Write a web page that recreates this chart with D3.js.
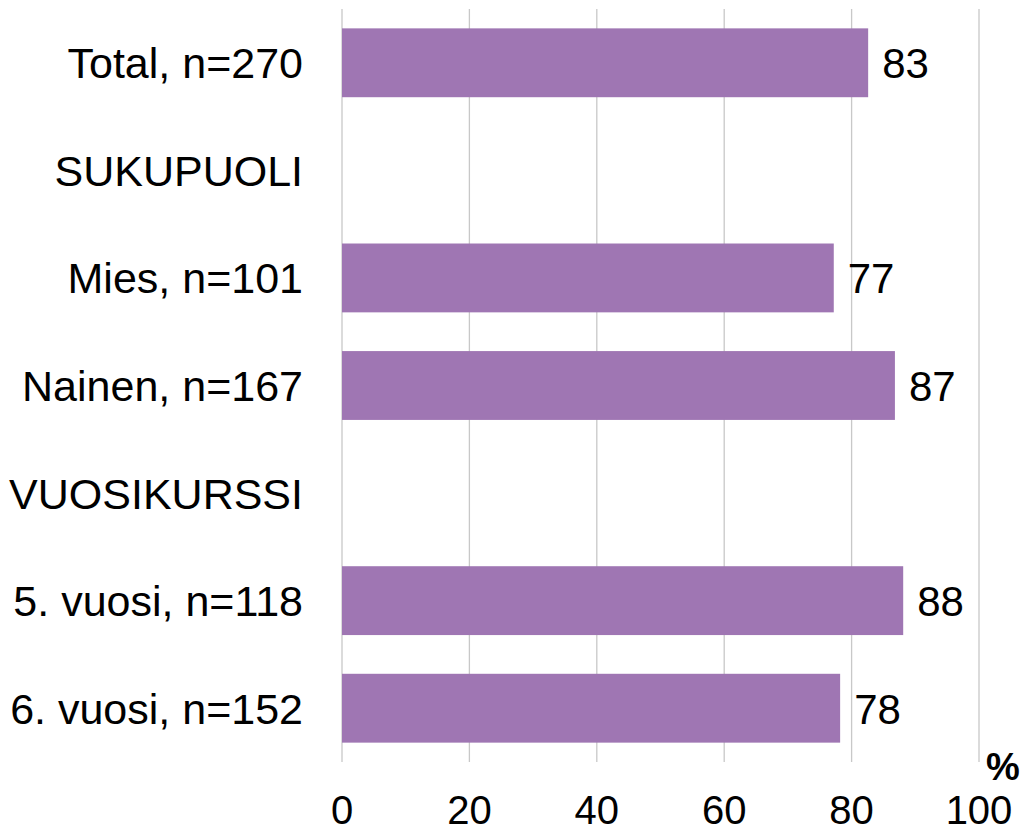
<!DOCTYPE html>
<html>
<head>
<meta charset="utf-8">
<script src="https://cdn.jsdelivr.net/npm/d3@7"></script>
<style>
  body { margin: 0; background: #fff; }
  text { font-family: "Liberation Sans", Arial, sans-serif; fill: #000; }
</style>
</head>
<body>
<div id="chart"></div>
<script>
// categories (rows), empty value = heading row
var categories = ["Total, n=270", "SUKUPUOLI", "Mies, n=101", "Nainen, n=167", "VUOSIKURSSI", "5. vuosi, n=118", "6. vuosi, n=152"];
var values = [82.6, null, 77.2, 86.8, null, 88.1, 78.2];
var valueLabels = ["83", "", "77", "87", "", "88", "78"];
var ticks = [0, 20, 40, 60, 80, 100];

var width = 1027, height = 831;
var margin = {left: 342, right: 48, top: 9, bottom: 69};

var svg = d3.select("#chart").append("svg")
    .attr("width", width).attr("height", height);

var x = d3.scaleLinear().domain([0, 100]).range([margin.left, width - margin.right]);
var y = d3.scaleBand().domain(categories)
    .range([margin.top, height - margin.bottom])
    .paddingInner(0.36).paddingOuter(0.18);

// gridlines
svg.append("g").selectAll("line")
    .data(ticks)
    .enter().append("line")
    .attr("x1", d => x(d)).attr("x2", d => x(d))
    .attr("y1", margin.top).attr("y2", height - margin.bottom)
    .attr("stroke", "#c8c8c8").attr("stroke-width", 1.3);

// bars
var rows = categories.map((c, i) => ({cat: c, v: values[i], lab: valueLabels[i]}));
svg.append("g").selectAll("rect")
    .data(rows.filter(d => d.v !== null))
    .enter().append("rect")
    .attr("x", x(0))
    .attr("y", d => y(d.cat))
    .attr("width", d => x(d.v) - x(0))
    .attr("height", y.bandwidth())
    .attr("fill", "#9f76b3");

// value labels
svg.append("g").selectAll("text")
    .data(rows.filter(d => d.v !== null))
    .enter().append("text")
    .attr("x", d => x(d.v) + 14)
    .attr("y", d => y(d.cat) + y.bandwidth() / 2)
    .attr("dy", "0.37em")
    .attr("font-size", 42)
    .text(d => d.lab);

// category labels
svg.append("g").selectAll("text")
    .data(categories)
    .enter().append("text")
    .attr("x", 303)
    .attr("y", d => y(d) + y.bandwidth() / 2)
    .attr("dy", "0.36em")
    .attr("text-anchor", "end")
    .attr("font-size", 43)
    .text(d => d);

// x tick labels
svg.append("g").selectAll("text")
    .data(ticks)
    .enter().append("text")
    .attr("x", d => x(d))
    .attr("y", 824)
    .attr("text-anchor", "middle")
    .attr("font-size", 40)
    .text(d => d);

// unit
svg.append("text")
    .attr("x", 1003).attr("y", 780)
    .attr("text-anchor", "middle")
    .attr("font-size", 38)
    .attr("font-weight", "bold")
    .text("%");
</script>
</body>
</html>
